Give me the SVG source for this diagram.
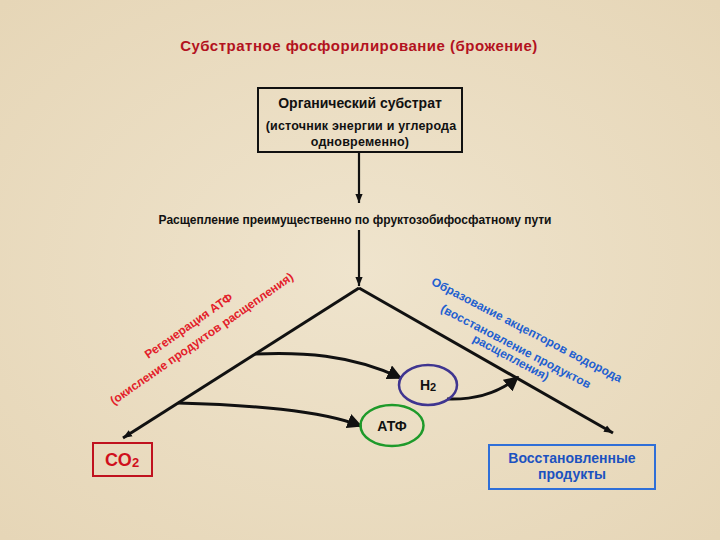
<svg xmlns="http://www.w3.org/2000/svg" width="720" height="540" viewBox="0 0 720 540">
  <defs>
    <radialGradient id="bg" cx="50%" cy="50%" r="70%">
      <stop offset="0" stop-color="#efe4cd"/>
      <stop offset="1" stop-color="#e6d6b7"/>
    </radialGradient>
    <marker id="arr" viewBox="0 0 10 10" refX="10" refY="5" markerWidth="9" markerHeight="9" markerUnits="userSpaceOnUse" orient="auto">
      <path d="M0,1 L10,5 L0,9 Z" fill="#111"/>
    </marker>
    <marker id="tri" viewBox="0 0 10 10" refX="9" refY="5" markerWidth="15" markerHeight="15" markerUnits="userSpaceOnUse" orient="auto">
      <path d="M0,0 L10,5 L0,10 Z" fill="#111"/>
    </marker>
  </defs>
  <style>
    text { font-family: "Liberation Sans", Arial, sans-serif; font-weight: bold; }
    .title { font-size: 15px; fill: #b3121e; letter-spacing: 0.5px; }
    .blk { fill: #111; }
    .red { fill: #e3202a; font-size: 12px; }
    .blue { fill: #1f5fd0; font-size: 12px; }
    .line { fill: none; stroke: #111; stroke-width: 3; }
    .thin { fill: none; stroke: #111; stroke-width: 2.2; }
  </style>
  <rect x="0" y="0" width="720" height="540" fill="url(#bg)"/>

  <text class="title" x="359" y="51" text-anchor="middle">Субстратное фосфорилирование (брожение)</text>

  <g id="substrate">
    <rect x="258" y="88" width="204" height="64" fill="none" stroke="#111" stroke-width="2"/>
    <text class="blk" x="360" y="108" text-anchor="middle" font-size="14">Органический субстрат</text>
    <text class="blk" x="361" y="130" text-anchor="middle" font-size="12.5" letter-spacing="0.2">(источник энергии и углерода</text>
    <text class="blk" x="360" y="146" text-anchor="middle" font-size="12.5" letter-spacing="0.2">одновременно)</text>
  </g>

  <g id="split">
    <text class="blk" x="355" y="224" text-anchor="middle" font-size="12">Расщепление преимущественно по фруктозобифосфатному пути</text>
  </g>

  <g id="connectors">
    <line class="thin" x1="359" y1="152" x2="359" y2="203" marker-end="url(#arr)"/>
    <line class="thin" x1="359" y1="230" x2="359" y2="286" marker-end="url(#arr)"/>
    <line class="line" x1="359" y1="288" x2="123" y2="438" marker-end="url(#arr)"/>
    <line class="line" x1="359" y1="288" x2="613" y2="433" marker-end="url(#arr)"/>
    <path class="line" d="M255,354 C300,352 350,354 401,378" marker-end="url(#tri)"/>
    <path class="line" d="M178,403 C250,405 320,410 361,426" marker-end="url(#tri)"/>
    <path class="line" d="M447,399 C475,400 500,392 518,377" marker-end="url(#tri)"/>
  </g>

  <g id="left-label">
    <text class="red" text-anchor="middle" transform="translate(191,329) rotate(-35)">Регенерация АТФ</text>
    <text class="red" text-anchor="middle" transform="translate(204,342) rotate(-35)">(окисление продуктов расщепления)</text>
  </g>

  <g id="right-label">
    <text class="blue" text-anchor="middle" transform="translate(525,333.5) rotate(27.5)">Образование акцепторов водорода</text>
    <text class="blue" text-anchor="middle" transform="translate(514,350) rotate(27.5)">(восстановление продуктов</text>
    <text class="blue" text-anchor="middle" transform="translate(509,361) rotate(28)">расщепления)</text>
  </g>

  <g id="h2">
    <ellipse cx="428" cy="385" rx="29" ry="20" fill="none" stroke="#3f3590" stroke-width="2.5"/>
    <text class="blk" x="428" y="390" text-anchor="middle" font-size="14">H<tspan font-size="11" dy="1">2</tspan></text>
  </g>

  <g id="atp">
    <ellipse cx="392" cy="425.5" rx="31.5" ry="20.5" fill="none" stroke="#1e9a2a" stroke-width="2.5"/>
    <text class="blk" x="392" y="431" text-anchor="middle" font-size="14">АТФ</text>
  </g>

  <g id="co2">
    <rect x="93" y="443" width="59" height="33" fill="none" stroke="#c0121e" stroke-width="2"/>
    <text x="122" y="466" text-anchor="middle" font-size="18" fill="#d0101c">CO<tspan font-size="13" dy="1">2</tspan></text>
  </g>

  <g id="products">
    <rect x="489" y="445" width="166" height="44" fill="none" stroke="#2f6fd8" stroke-width="2"/>
    <text x="572" y="463" text-anchor="middle" font-size="14" fill="#1c52c0">Восстановленные</text>
    <text x="572" y="479" text-anchor="middle" font-size="14" fill="#1c52c0">продукты</text>
  </g>
</svg>
